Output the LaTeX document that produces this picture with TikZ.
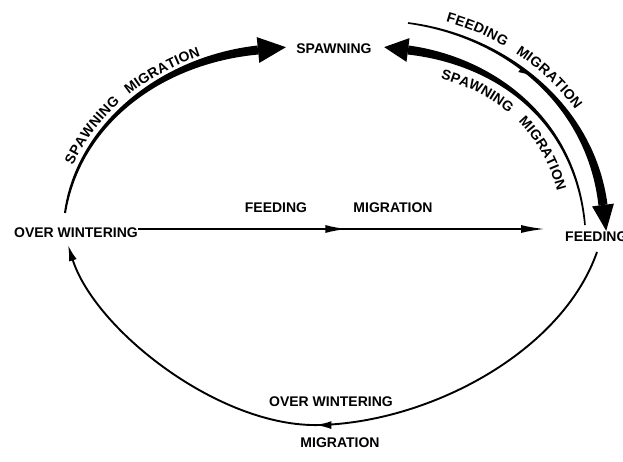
\documentclass[tikz,border=0pt]{standalone}
\usepackage{fontspec}
\setmainfont{Liberation Sans}
\usetikzlibrary{arrows.meta,decorations.text,decorations.markings}
\newcommand{\lblfont}{\bfseries\fontsize{14}{14}\selectfont}
\begin{document}
\begin{tikzpicture}[x=1pt,y=-1pt,
  lbl/.style={font=\lblfont, inner sep=0pt},
  conn/.style={line width=1.9pt},
  bigtip/.style={-{Latex[length=24pt,width=8pt]}},
  smalltip/.style={-{Latex[length=16pt,width=8pt]}},
  arctext/.style 2 args={decorate, decoration={text along path, text={|\lblfont|#1},
    raise=#2}}]
\useasboundingbox (0,0) rectangle (623,462);
\fill[white] (0,0) rectangle (623,462);
% nodes
\node[lbl] (sp) at (334,49) {SPAWNING};
\node[lbl] (ow) at (76,233) {OVER WINTERING};
\node[lbl, anchor=west] (fd) at (565,237) {FEEDING};
\node[lbl] (fm1) at (276,208) {FEEDING};
\node[lbl] (fm2) at (393,208) {MIGRATION};
\node[lbl] (om1) at (331,402) {OVER WINTERING};
\node[lbl] (om2) at (340,443) {MIGRATION};
% horizontal feeding migration
\draw[conn, bigtip, shorten >=20pt, postaction={decorate},
  decoration={markings, mark=at position 0.49 with {\arrow{Latex[length=22pt,width=8pt]}}}]
  ([yshift=4pt]ow.east) -- ([yshift=4pt]ow.east -| fd.west);
% left spawning migration (tapered)
\fill (64,212.9) .. controls (76,124.7) and (159.6,56.5) .. (257.5,45.5)
  -- (258.5,54.5) .. controls (160.4,63.5) and (80,125.3) .. (66,213.1) -- cycle;
\fill (256.7,37.1) -- (285.9,47.2) -- (259.3,62.9) -- cycle;
\path[arctext={SPAWNING}{6pt}, decoration={text align={left indent=47pt}}]
  (65,213) .. controls (78,125) and (160,60) .. (258,50);
\path[arctext={MIGRATION}{6pt}, decoration={text align={left indent=135pt}}]
  (65,213) .. controls (78,125) and (160,60) .. (258,50);
% right outer feeding migration (tapered)
\fill (408.1,22.2) .. controls (500.2,33.5) and (593.5,99.6) .. (607.5,204.4)
  -- (598.5,205.6) .. controls (586.5,100.4) and (499.8,36.5) .. (407.9,23.8) -- cycle;
\fill (613.9,203.6) -- (606.2,230.8) -- (592.1,206.4) -- cycle;
\path[postaction={decorate}, decoration={markings, mark=at position 0.45 with
  {\fill (-6pt,0pt) -- (5pt,0pt) -- (-6pt,-5pt) -- cycle;}}]
  (408,23) .. controls (500,35) and (590,100) .. (603,205);
\path[arctext={FEEDING}{9pt}, decoration={text align={left indent=36pt}}]
  (408,23) .. controls (500,35) and (590,100) .. (603,205);
\path[arctext={MIGRATION}{9pt}, decoration={text align={left indent=110pt}}]
  (408,23) .. controls (500,35) and (590,100) .. (603,205);
% right inner spawning migration (tapered)
\fill (408.5,45.5) .. controls (490.4,56.5) and (576.5,114.9) .. (585.8,224.9)
  -- (584.2,225.1) .. controls (573.5,115.1) and (489.6,63.5) .. (407.5,54.5) -- cycle;
\fill (409.5,38.1) -- (384.2,47.1) -- (406.5,61.9) -- cycle;
\path[arctext={SPAWNING}{0pt}, decoration={text align={left indent=36pt}}]
  (405.3,71.8) .. controls (482.3,80.7) and (555.2,124.5) .. (563.1,227);
\path[arctext={MIGRATION}{0pt}, decoration={text align={left indent=126pt}}]
  (405.3,71.8) .. controls (482.3,80.7) and (555.2,124.5) .. (563.1,227);
% bottom over wintering migration
\draw[conn, smalltip, postaction={decorate},
  decoration={markings, mark=at position 0.52 with {\arrow{Latex[length=16pt,width=8pt]}}}]
  (597,252) .. controls (562,352) and (430,422) .. (320,425)
  .. controls (220,428) and (95,330) .. (68,245);
\end{tikzpicture}
\end{document}
